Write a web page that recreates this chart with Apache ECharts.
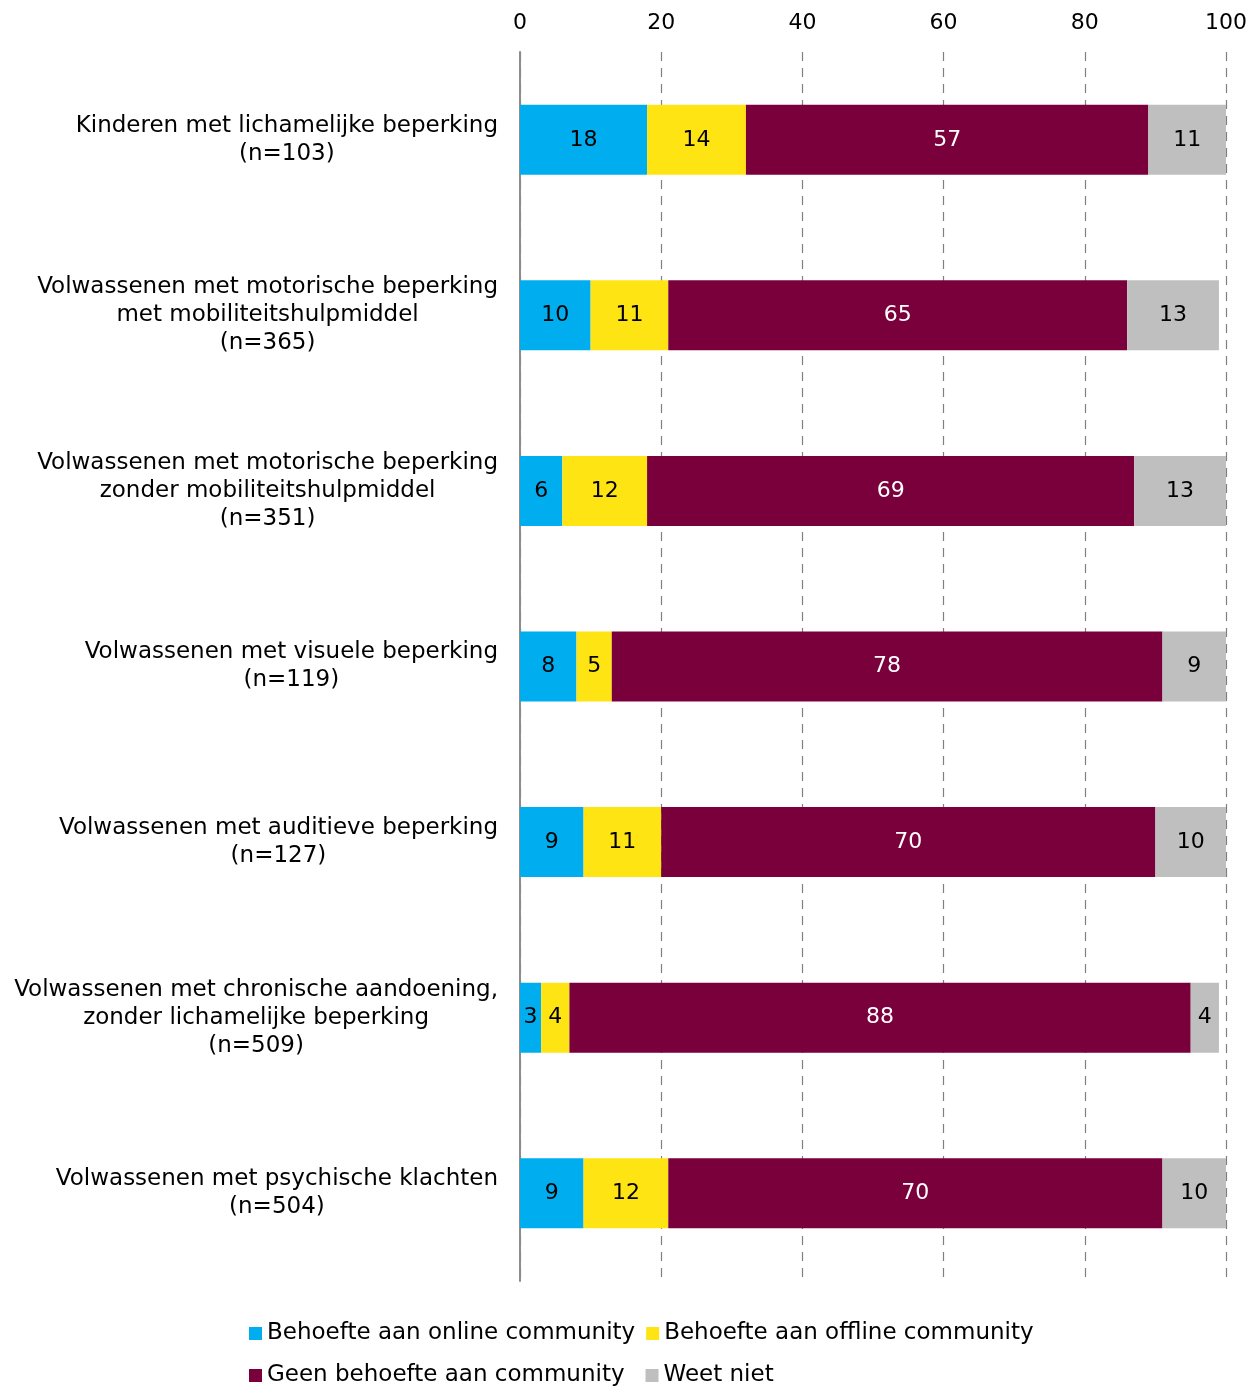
<!DOCTYPE html>
<html>
<head>
<meta charset="utf-8">
<script src="https://cdn.jsdelivr.net/npm/echarts@6/dist/echarts.min.js"></script>
<style>
  html, body { margin: 0; padding: 0; background: #ffffff; }
  #chart { width: 1260px; height: 1387px; }
</style>
</head>
<body>
<div id="chart"></div>
<script>
// Groups (each line of a label on its own)
const categories = [
  ['Kinderen met lichamelijke beperking', '(n=103)'],
  ['Volwassenen met motorische beperking', 'met mobiliteitshulpmiddel', '(n=365)'],
  ['Volwassenen met motorische beperking', 'zonder mobiliteitshulpmiddel', '(n=351)'],
  ['Volwassenen met visuele beperking', '(n=119)'],
  ['Volwassenen met auditieve beperking', '(n=127)'],
  ['Volwassenen met chronische aandoening,', 'zonder lichamelijke beperking', '(n=509)'],
  ['Volwassenen met psychische klachten', '(n=504)']
];

// Percentages per answer
const online  = [18, 10, 6, 8, 9, 3, 9];
const offline = [14, 11, 12, 5, 11, 4, 12];
const geen    = [57, 65, 69, 78, 70, 88, 70];
const weetNiet = [11, 13, 13, 9, 10, 4, 10];

const seriesNames = [
  'Behoefte aan online community',
  'Behoefte aan offline community',
  'Geen behoefte aan community',
  'Weet niet'
];

const xTicks = [0, 20, 40, 60, 80, 100];

const FONT = '"DejaVu Sans", sans-serif';
const colors = ['#00AEEF', '#FFE414', '#7A003C', '#BFBFBF'];
const labelColors = ['#000000', '#000000', '#ffffff', '#000000'];
const seriesData = [online, offline, geen, weetNiet];

const chart = echarts.init(document.getElementById('chart'), null, { renderer: 'canvas' });

const categoryKeys = categories.map((c, i) => 'c' + i);

const option = {
  backgroundColor: '#ffffff',
  animation: false,
  textStyle: { fontFamily: FONT },
  grid: { left: 520, right: 34, top: 52, bottom: 106, containLabel: false },
  legend: [
    {
      data: seriesNames.slice(0, 2),
      left: 249, top: 1322, padding: 0,
      orient: 'horizontal',
      icon: 'rect', itemWidth: 13, itemHeight: 13, itemGap: 11,
      textStyle: { fontFamily: FONT, fontSize: 23, color: '#000000' }
    },
    {
      data: seriesNames.slice(2, 4),
      left: 249, top: 1364, padding: 0,
      orient: 'horizontal',
      icon: 'rect', itemWidth: 13, itemHeight: 13, itemGap: 21,
      textStyle: { fontFamily: FONT, fontSize: 23, color: '#000000' }
    }
  ],
  xAxis: {
    type: 'value',
    position: 'top',
    min: xTicks[0],
    max: xTicks[xTicks.length - 1],
    interval: xTicks[1] - xTicks[0],
    axisLine: { show: false },
    axisTick: { show: false },
    axisLabel: { fontFamily: FONT, fontSize: 22, color: '#000000', margin: 18 },
    splitLine: { show: true, lineStyle: { color: '#7f7f7f', width: 1.2, type: [9, 7] } }
  },
  yAxis: {
    type: 'category',
    inverse: true,
    data: categoryKeys,
    axisTick: { show: false },
    axisLine: { show: true, lineStyle: { color: '#8c8c8c', width: 2 } },
    axisLabel: {
      align: 'right',
      margin: 22,
      formatter: function (value) {
        const idx = categoryKeys.indexOf(value);
        return categories[idx].map(l => '{c|' + l + '}').join('\n');
      },
      rich: {
        c: { align: 'center', fontFamily: FONT, fontSize: 23, lineHeight: 28, color: '#000000' }
      }
    }
  },
  series: seriesNames.map((name, i) => ({
    name: name,
    type: 'bar',
    stack: 'total',
    barWidth: 70,
    data: seriesData[i],
    itemStyle: { color: colors[i] },
    label: {
      show: true,
      position: 'inside',
      fontFamily: FONT,
      fontSize: 22,
      color: labelColors[i]
    }
  }))
};

chart.setOption(option);
</script>
</body>
</html>
